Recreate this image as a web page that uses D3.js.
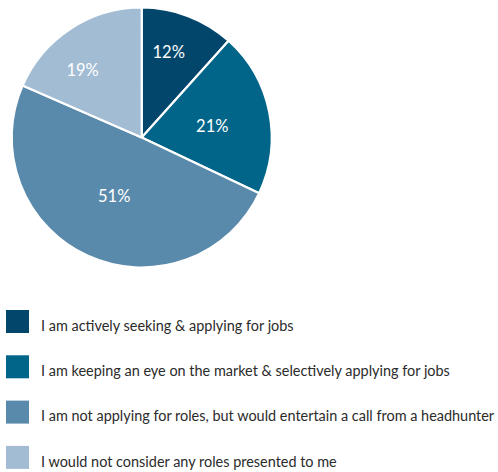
<!DOCTYPE html>
<html>
<head>
<meta charset="utf-8">
<script src="https://cdn.jsdelivr.net/npm/d3@7"></script>
<style>
  html, body { margin: 0; padding: 0; background: #fff; }
  svg { display: block; }
</style>
</head>
<body>
<svg id="chart" width="498" height="472"></svg>
<script>
// Survey responses: current job-seeking status
const categories = [
  "I am actively seeking & applying for jobs",
  "I am keeping an eye on the market & selectively applying for jobs",
  "I am not applying for roles, but would entertain a call from a headhunter",
  "I would not consider any roles presented to me"
];
const values = [12, 21, 51, 19];
const labels = ["12%", "21%", "51%", "19%"];
const colors = ["#03466c", "#016489", "#5a8aab", "#a2bcd4"];

const svg = d3.select("#chart");

const cx = 141.7, cy = 137.5, radius = 130;
const fontFamily = "Lato, 'Open Sans', sans-serif";

const pie = d3.pie().sort(null).value(d => d);
const arcs = pie(values);

const arc = d3.arc().innerRadius(0).outerRadius(radius);

const g = svg.append("g").attr("transform", `translate(${cx},${cy})`);

g.selectAll("path.slice")
  .data(arcs)
  .join("path")
  .attr("class", "slice")
  .attr("d", arc)
  .attr("fill", (d, i) => colors[i])
  .attr("stroke", "#fff")
  .attr("stroke-width", 2.2)
  .attr("stroke-linejoin", "round");

// label placement inside each slice: radius fraction and small angular nudge
const labelRadius = [0.69, 0.55, 0.5, 0.69];
const labelNudge = [-0.06, 0.04, 0.01, -0.14];

g.selectAll("text.pct")
  .data(arcs)
  .join("text")
  .attr("class", "pct")
  .attr("transform", (d, i) => {
    const a = (d.startAngle + d.endAngle) / 2 + labelNudge[i];
    const r = radius * labelRadius[i];
    return `translate(${r * Math.sin(a)},${-r * Math.cos(a)})`;
  })
  .attr("text-anchor", "middle")
  .attr("dy", "0.36em")
  .attr("fill", "#fff")
  .attr("font-family", fontFamily)
  .attr("font-size", 16.5)
  .text((d, i) => labels[i]);

// legend
const legend = svg.append("g").attr("transform", "translate(6,310)");
const rowStep = 45.3;
const item = legend.selectAll("g.item")
  .data(categories)
  .join("g")
  .attr("class", "item")
  .attr("transform", (d, i) => `translate(0,${i * rowStep})`);

item.append("rect")
  .attr("width", 23)
  .attr("height", 23)
  .attr("fill", (d, i) => colors[i]);

item.append("text")
  .attr("x", 35)
  .attr("y", 20.7)
  .attr("fill", "#2b2b2b")
  .attr("font-family", fontFamily)
  .attr("font-size", 14.45)
  .text(d => d);
</script>
</body>
</html>
